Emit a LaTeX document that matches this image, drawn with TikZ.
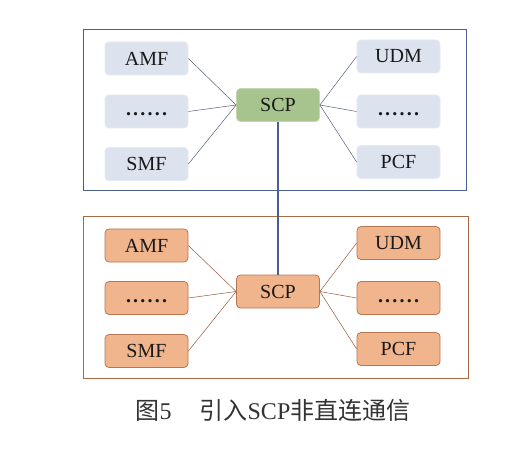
\documentclass[tikz,border=0pt]{standalone}
\usepackage{fontspec}
\setmainfont{Liberation Serif}
\newfontfamily\cjk{Noto Sans CJK SC}
\definecolor{bluebd}{HTML}{4A5E90}
\definecolor{bluefill}{HTML}{DCE3EE}
\definecolor{bluenbd}{HTML}{E4E9F1}
\definecolor{greenfill}{HTML}{A8C48E}
\definecolor{greenbd}{HTML}{C4D7B2}
\definecolor{brownbd}{HTML}{A86A45}
\definecolor{orangefill}{HTML}{F0B58C}
\definecolor{orangebd}{HTML}{B97650}
\definecolor{linecol}{HTML}{55607A}
\definecolor{brline}{HTML}{9A5A40}
\newcommand{\mydots}{\raisebox{-9pt}{\bfseries .\kern2.2pt.\kern2.2pt.\kern2.2pt.\kern2.2pt.\kern2.2pt.}}
\begin{document}
\begin{tikzpicture}[x=1pt,y=-1pt,
  nfbox/.style={rounded corners=4pt,minimum width=83pt,minimum height=33pt,inner sep=0pt,font=\fontsize{20}{22}\selectfont,text=black!90},
  bluenf/.style={nfbox,fill=bluefill,draw=bluenbd,line width=0.8pt},
  greennf/.style={nfbox,fill=greenfill,draw=greenbd,line width=0.8pt},
  orangenf/.style={nfbox,fill=orangefill,draw=orangebd,line width=0.8pt},
  blink/.style={draw=linecol,line width=0.5pt},
  olink/.style={draw=brline,line width=0.5pt}]
\useasboundingbox (0,0) rectangle (530,449);
\fill[white] (0,0) rectangle (530,449);
% frames
\node[draw=bluebd,line width=1pt,minimum width=383pt,minimum height=161pt,inner sep=0pt] (topframe) at (274.5,110.5) {};
\node[draw=brownbd,line width=1pt,minimum width=385pt,minimum height=161pt,inner sep=0pt] (botframe) at (275.5,297.5) {};
% top
\node[greennf] (tscp) at (278,105) {SCP};
\node[bluenf] (tamf) at (146.5,58.5) {AMF};
\node[bluenf] (tdl) at (146.5,111.5) {\mydots};
\node[bluenf] (tsmf) at (146.5,164) {SMF};
\node[bluenf] (tudm) at (398.5,56.5) {UDM};
\node[bluenf] (tdr) at (398.5,111.5) {\mydots};
\node[bluenf] (tpcf) at (398.5,162) {PCF};
% bottom
\node[orangenf] (bscp) at (278,291.5) {SCP};
\node[orangenf] (bamf) at (146.5,245.5) {AMF};
\node[orangenf] (bdl) at (146.5,298) {\mydots};
\node[orangenf] (bsmf) at (146.5,351) {SMF};
\node[orangenf] (budm) at (398.5,243) {UDM};
\node[orangenf] (bdr) at (398.5,298) {\mydots};
\node[orangenf] (bpcf) at (398.5,349) {PCF};
% links
\foreach \n in {tamf,tdl,tsmf} \draw[blink] (\n.east) -- (tscp.west);
\foreach \n in {tudm,tdr,tpcf} \draw[blink] (\n.west) -- (tscp.east);
\foreach \n in {bamf,bdl,bsmf} \draw[olink] (\n.east) -- (bscp.west);
\foreach \n in {budm,bdr,bpcf} \draw[olink] (\n.west) -- (bscp.east);
\draw[draw=bluebd,line width=1.3pt] (tscp.south) -- (bscp.north);
% caption
\node[font=\fontsize{24}{26}\selectfont,text=black!80] (cap) at (273,410) {{\cjk 图}5\hspace{28pt}{\cjk 引入}SCP{\cjk 非直连通信}};
\end{tikzpicture}
\end{document}
